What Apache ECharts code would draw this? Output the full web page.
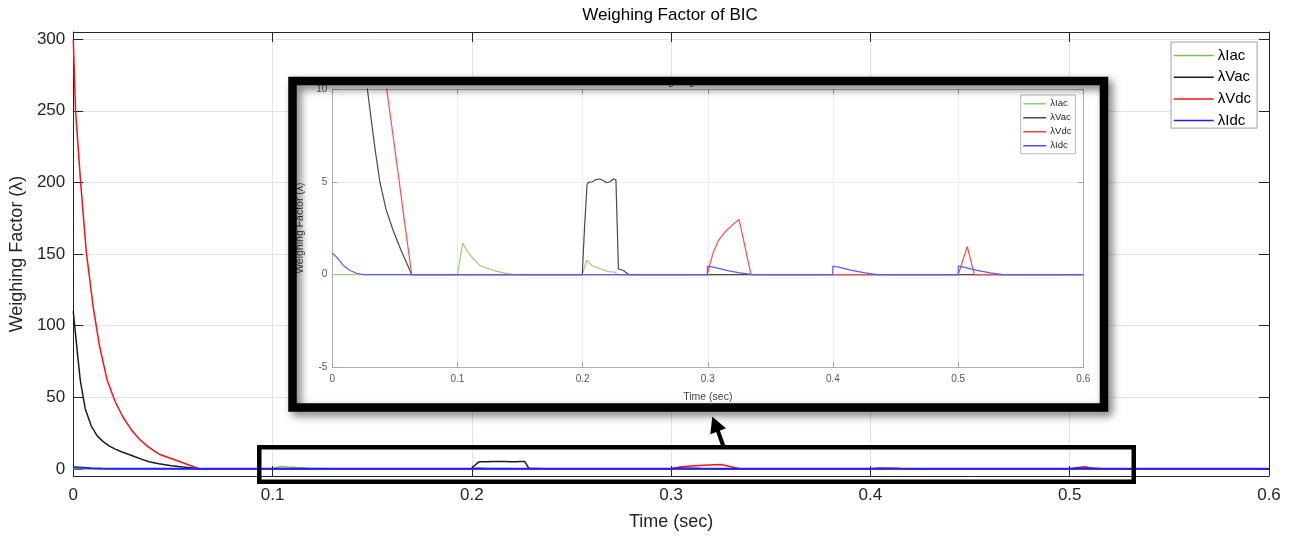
<!DOCTYPE html>
<html>
<head>
<meta charset="utf-8">
<script src="https://cdn.jsdelivr.net/npm/echarts@6/dist/echarts.min.js"></script>
<style>
  html, body { margin: 0; padding: 0; background: #fff; }
  #chart { width: 1302px; height: 539px; }
</style>
</head>
<body>
<div id="chart"></div>
<script>
// Weighing factors of the BIC controller, [time (s), λ] pairs
const seriesNames = ['λIac', 'λVac', 'λVdc', 'λIdc'];

const lambdaIac = [
  [0, 0], [0.0999, 0], [0.1042, 1.69], [0.1074, 1.30], [0.1127, 0.85], [0.118, 0.49],
  [0.1286, 0.22], [0.1366, 0.09], [0.1446, 0], [0.1997, 0], [0.2032, 0.76], [0.2072, 0.49],
  [0.2139, 0.31], [0.2205, 0.16], [0.2259, 0.13], [0.2275, 0], [0.6, 0]
];
const lambdaVac = [
  [0, 110], [0.002, 82], [0.0035, 62], [0.006, 42], [0.009, 30], [0.012, 23], [0.015, 19],
  [0.018, 16], [0.021, 13.8], [0.0245, 11.8], [0.028, 10], [0.031, 8.4], [0.0345, 6.6],
  [0.038, 5.0], [0.043, 3.5], [0.0485, 2.4], [0.055, 1.3], [0.0634, 0], [0.1997, 0],
  [0.2015, 2.5], [0.2035, 4.85], [0.2046, 4.97], [0.2079, 5.0], [0.2106, 5.12], [0.2139, 5.15],
  [0.2166, 5.05], [0.2192, 4.95], [0.2219, 5.0], [0.2246, 5.15], [0.2266, 5.1], [0.2286, 0.3],
  [0.2326, 0.22], [0.2366, 0], [0.6, 0]
];
const lambdaVdc = [
  [0, 300], [0.00115, 250], [0.0037, 200], [0.0065, 152], [0.01, 113], [0.013, 87],
  [0.017, 62], [0.021, 47], [0.025, 36], [0.029, 27.5], [0.033, 21], [0.037, 16], [0.04, 13],
  [0.0435, 10], [0.048, 7.75], [0.053, 5.25], [0.058, 2.7], [0.0634, 0], [0.2996, 0],
  [0.3018, 0.58], [0.3045, 1.21], [0.3085, 1.84], [0.3138, 2.29], [0.3192, 2.65], [0.325, 2.97],
  [0.3345, 0], [0.5001, 0], [0.5073, 1.51], [0.5129, 0], [0.6, 0]
];
const lambdaIdc = [
  [0, 1.15], [0.0035, 0.94], [0.0088, 0.49], [0.0141, 0.22], [0.0195, 0.07], [0.0248, 0],
  [0.2996, 0], [0.2997, 0.45], [0.3045, 0.40], [0.315, 0.22], [0.3256, 0.09], [0.3357, 0],
  [0.3998, 0], [0.3999, 0.45], [0.4045, 0.40], [0.415, 0.22], [0.4256, 0.09], [0.4357, 0],
  [0.5, 0], [0.5001, 0.45], [0.5045, 0.40], [0.515, 0.22], [0.5256, 0.09], [0.5357, 0], [0.6, 0]
];

const mainYTicks = [0, 50, 100, 150, 200, 250, 300];

const mainColors = ['#7fbf4a', '#1c1c1c', '#ff1010', '#2020ff'];
const zoomColors = ['#9ccd72', '#4a4a4a', '#ff4a4a', '#5a5aff'];
const seriesData = [lambdaIac, lambdaVac, lambdaVdc, lambdaIdc];

const FONT = '"Liberation Sans", Arial, Helvetica, sans-serif';
const AX = '#262626';

const chart = echarts.init(document.getElementById('chart'), null, { renderer: 'canvas' });

const mainSeries = seriesData.map((d, i) => ({
  name: seriesNames[i], type: 'line', xAxisIndex: 0, yAxisIndex: 0,
  data: d, symbol: 'none', animation: false, z: 2,
  lineStyle: { color: mainColors[i], width: i === 3 ? 2 : 1.5 },
  itemStyle: { color: mainColors[i] }
}));
const zoomSeries = seriesData.map((d, i) => ({
  name: seriesNames[i], type: 'line', xAxisIndex: 2, yAxisIndex: 2,
  data: d, symbol: 'none', animation: false, z: 21, clip: true,
  lineStyle: { color: zoomColors[i], width: 1.2 },
  itemStyle: { color: zoomColors[i] }
}));

const option = {
  animation: false,
  backgroundColor: '#fff',
  textStyle: { fontFamily: FONT },
  title: {
    text: 'Weighing Factor of BIC', left: 670, top: 7, padding: 0, textAlign: 'center',
    textStyle: { fontFamily: FONT, fontSize: 17, fontWeight: 'normal', color: '#000' }
  },
  grid: [
    { left: 71, right: 33, top: 32, bottom: 63, containLabel: false },
    { left: 332.3, right: 218.7, top: 89, bottom: 171.7, containLabel: false }
  ],
  legend: [
    {
      data: seriesNames, orient: 'vertical', left: 1171, top: 42,
      padding: [6, 6, 0, 2], itemWidth: 40, itemHeight: 17, itemGap: 6.7,
      backgroundColor: '#fff', borderColor: '#a0a0a0', borderWidth: 1, borderRadius: 0,
      itemStyle: { opacity: 0 },
      lineStyle: { width: 1.5 },
      textStyle: { fontFamily: FONT, fontSize: 15, color: '#000', padding: [0, 0, 0, -1] },
      selectedMode: false, z: 5
    },
    {
      data: seriesNames, orient: 'vertical', left: 1020.7, top: 95,
      padding: [3.8, 4, 3, 2], itemWidth: 23, itemHeight: 11, itemGap: 4,
      backgroundColor: '#fff', borderColor: '#b8b8b8', borderWidth: 1, borderRadius: 0,
      itemStyle: { opacity: 0 },
      lineStyle: { width: 1.2 },
      textStyle: { fontFamily: FONT, fontSize: 9.5, color: '#222', padding: [0, 0, 0, -1] },
      selectedMode: false, z: 22
    }
  ],
  xAxis: [
    {
      gridIndex: 0, type: 'value', position: 'bottom', min: 0, max: 0.6, interval: 0.1,
      name: 'Time (sec)', nameLocation: 'middle', nameGap: 37,
      nameTextStyle: { fontFamily: FONT, fontSize: 18, color: AX },
      axisLine: { show: true, onZero: false, lineStyle: { color: AX, width: 1 } },
      axisTick: { show: true, inside: true, length: 10, lineStyle: { color: AX } },
      axisLabel: { fontFamily: FONT, fontSize: 17, color: AX, margin: 11 },
      splitLine: { show: true, lineStyle: { color: '#e3e3e3', width: 1 } }
    },
    {
      gridIndex: 0, type: 'value', position: 'top', min: 0, max: 0.6, interval: 0.1,
      axisLine: { show: true, onZero: false, lineStyle: { color: AX, width: 1 } },
      axisTick: { show: true, inside: true, length: 10, lineStyle: { color: AX } },
      axisLabel: { show: false }, splitLine: { show: false }
    },
    {
      gridIndex: 1, type: 'value', position: 'bottom', min: 0, max: 0.6, interval: 0.1, z: 20,
      name: 'Time (sec)', nameLocation: 'middle', nameGap: 24,
      nameTextStyle: { fontFamily: FONT, fontSize: 10.5, color: '#444' },
      axisLine: { show: true, onZero: false, lineStyle: { color: '#b0b0b0', width: 1 } },
      axisTick: { show: true, inside: true, length: 5, lineStyle: { color: '#a0a0a0' } },
      axisLabel: { fontFamily: FONT, fontSize: 10, color: '#555', margin: 7 },
      splitLine: { show: true, lineStyle: { color: '#ebebeb', width: 1 } }
    },
    {
      gridIndex: 1, type: 'value', position: 'top', min: 0, max: 0.6, interval: 0.1, z: 20,
      axisLine: { show: true, onZero: false, lineStyle: { color: '#b0b0b0', width: 1 } },
      axisTick: { show: true, inside: true, length: 5, lineStyle: { color: '#a0a0a0' } },
      axisLabel: { show: false }, splitLine: { show: false }
    }
  ],
  yAxis: [
    {
      gridIndex: 0, type: 'value', position: 'left', min: -5, max: 305,
      name: 'Weighing Factor (λ)', nameLocation: 'middle', nameGap: 44,
      nameTextStyle: { fontFamily: FONT, fontSize: 18, color: AX },
      axisLine: { show: true, onZero: false, lineStyle: { color: AX, width: 1 } },
      axisTick: { show: true, inside: true, length: 10, customValues: mainYTicks, lineStyle: { color: AX } },
      axisLabel: { fontFamily: FONT, fontSize: 17, color: AX, margin: 8, customValues: mainYTicks },
      splitLine: { show: true, lineStyle: { color: '#e3e3e3', width: 1 } }
    },
    {
      gridIndex: 0, type: 'value', position: 'right', min: -5, max: 305,
      axisLine: { show: true, onZero: false, lineStyle: { color: AX, width: 1 } },
      axisTick: { show: true, inside: true, length: 10, customValues: mainYTicks, lineStyle: { color: AX } },
      axisLabel: { show: false, customValues: mainYTicks }, splitLine: { show: false }
    },
    {
      gridIndex: 1, type: 'value', position: 'left', min: -5, max: 10, interval: 5, z: 20,
      name: 'Weighing Factor (λ)', nameLocation: 'middle', nameGap: 23,
      nameTextStyle: { fontFamily: FONT, fontSize: 10.5, color: '#444' },
      axisLine: { show: true, onZero: false, lineStyle: { color: '#b0b0b0', width: 1 } },
      axisTick: { show: true, inside: true, length: 5, lineStyle: { color: '#a0a0a0' } },
      axisLabel: { fontFamily: FONT, fontSize: 10, color: '#555', margin: 5 },
      splitLine: { show: true, lineStyle: { color: '#ebebeb', width: 1 } }
    },
    {
      gridIndex: 1, type: 'value', position: 'right', min: -5, max: 10, interval: 5, z: 20,
      axisLine: { show: true, onZero: false, lineStyle: { color: '#b0b0b0', width: 1 } },
      axisTick: { show: true, inside: true, length: 5, lineStyle: { color: '#a0a0a0' } },
      axisLabel: { show: false }, splitLine: { show: false }
    }
  ],
  graphic: {
    elements: [
      // white panel behind the zoomed view
      { type: 'rect', z: 10, silent: true,
        shape: { x: 292, y: 80, width: 812, height: 328 },
        style: { fill: '#fff' } },
      // zoomed view title, mostly hidden under the frame
      { type: 'text', z: 12, silent: true, x: 706, y: 87.5,
        style: { text: 'Weighing Factor of BIC', fill: '#333', font: '11px ' + FONT,
                 textAlign: 'center', textVerticalAlign: 'bottom' } },
      // frame around the zoomed view
      { type: 'rect', z: 30, silent: true,
        shape: { x: 292.5, y: 81, width: 811.5, height: 326.5 },
        style: { fill: 'none', stroke: '#000', lineWidth: 8.5,
                 shadowBlur: 8, shadowOffsetX: 4, shadowOffsetY: 4, shadowColor: 'rgba(0,0,0,0.55)' } },
      // highlighted time window on the main axes
      { type: 'rect', z: 30, silent: true,
        shape: { x: 259.25, y: 447.25, width: 874.5, height: 34.5 },
        style: { fill: 'none', stroke: '#000', lineWidth: 4.5 } },
      // arrow pointing to the zoomed view
      { type: 'line', z: 30, silent: true,
        shape: { x1: 723.3, y1: 446, x2: 716.5, y2: 427 },
        style: { stroke: '#000', lineWidth: 4 } },
      { type: 'polygon', z: 30, silent: true,
        shape: { points: [[712.3, 416.7], [710.3, 434.3], [726, 428.3]] },
        style: { fill: '#000' } }
    ]
  },
  series: mainSeries.concat(zoomSeries)
};

chart.setOption(option);
</script>
</body>
</html>
